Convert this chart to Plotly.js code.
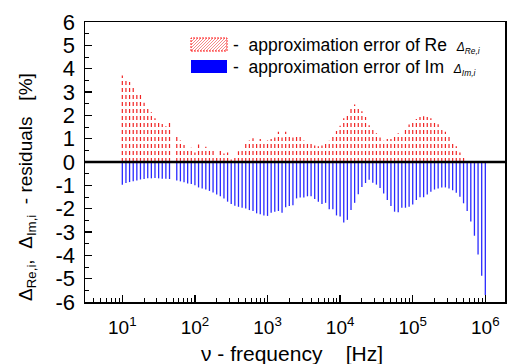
<!DOCTYPE html>
<html>
<head>
<meta charset="utf-8">
<script src="https://cdn.plot.ly/plotly-3.0.1.min.js"></script>
<style>html,body{margin:0;padding:0;background:#fff;}#chart{width:509px;height:364px;}</style>
</head>
<body>
<div id="chart"></div>
<script>
// Frequencies [Hz] (log-spaced measurement grid, 20 points per decade)
const freq = [
  10, 11.22, 12.59, 14.13, 15.85, 17.78, 19.95, 22.39, 25.12, 28.18, 31.62, 35.48, 39.81, 44.67, 50.12, 56.23, 63.10, 70.79, 79.43, 89.13,
  100, 112.2, 125.9, 141.3, 158.5, 177.8, 199.5, 223.9, 251.2, 281.8, 316.2, 354.8, 398.1, 446.7, 501.2, 562.3, 631.0, 707.9, 794.3, 891.3,
  1000, 1122, 1259, 1413, 1585, 1778, 1995, 2239, 2512, 2818, 3162, 3548, 3981, 4467, 5012, 5623, 6310, 7079, 7943, 8913,
  10000, 11220, 12590, 14130, 15850, 17780, 19950, 22390, 25120, 28180, 31620, 35480, 39810, 44670, 50120, 56230, 63100, 70790, 79430, 89130,
  100000, 112200, 125900, 141300, 158500, 177800, 199500, 223900, 251200, 281800, 316200, 354800, 398100, 446700, 501200, 562300, 631000, 707900, 794300, 891300,
  1000000
];
// Approximation error of Re [%]
const errRe = [
  3.71, 3.49, 3.43, 3.29, 2.89, 2.97, 2.54, 2.40, 2.13, 1.88, 1.80, 1.63, 1.53, 1.71, null, 1.08, 0.92, 0.73, 0.53, 0.61,
  0.41, 0.75, 0.57, 0.65, 0.47, 0.54, 0.30, 0.52, 0.36, 0.41, 0.11, 0.20, 0.46, 0.60, 0.84, 0.92, 1.02, 0.88, 0.99, 0.88,
  0.92, 0.99, 1.05, 1.30, 1.05, 1.30, 1.16, 1.05, 1.20, 1.09, 0.92, 0.84, 0.78, 0.71, 0.67, 0.71, 0.88, 0.91, 1.13, 1.33,
  1.55, 1.87, 2.08, 2.36, 2.46, 2.32, 2.18, 1.93, 1.58, 1.49, 1.23, 1.05, 0.91, 0.99, 0.99, 1.16, 1.23, 1.19, 1.42, 1.61,
  1.75, 1.84, 1.93, 1.96, 1.93, 1.87, 1.73, 1.62, 1.44, 1.30, 1.09, 0.88, 0.67, 0.41, 0.18, 0, 0, 0, 0, 0,
  0
];
// Approximation error of Im [%]
const errIm = [
  -0.97, -0.90, -0.86, -0.82, -0.79, -0.75, -0.73, -0.70, -0.70, -0.69, -0.70, -0.72, -0.72, -0.73, null, -0.79, -0.83, -0.87, -0.92, -0.94,
  -1.00, -1.09, -1.14, -1.18, -1.24, -1.31, -1.39, -1.47, -1.56, -1.70, -1.80, -1.87, -1.92, -1.96, -1.99, -2.06, -2.10, -2.20, -2.24, -2.29,
  -2.31, -2.17, -2.13, -2.10, -2.17, -1.94, -1.89, -1.85, -1.56, -1.52, -1.52, -1.47, -1.47, -1.59, -1.70, -1.80, -1.75, -2.03, -2.03, -2.29,
  -2.34, -2.59, -2.48, -2.06, -1.75, -1.38, -1.07, -0.90, -0.76, -0.89, -0.97, -1.11, -1.35, -1.63, -1.89, -2.13, -2.15, -1.96, -1.96, -1.92,
  -1.82, -1.63, -1.51, -1.51, -1.39, -1.28, -1.18, -1.14, -1.09, -1.09, -1.14, -1.21, -1.32, -1.49, -1.77, -2.10, -2.55, -3.16, -3.96, -4.87,
  -5.70
];
const xTickVals = [10, 100, 1000, 10000, 100000, 1000000];
const xTickText = ['10<sup>1</sup>', '10<sup>2</sup>', '10<sup>3</sup>', '10<sup>4</sup>', '10<sup>5</sup>', '10<sup>6</sup>'];
const yTickVals = [-6, -5, -4, -3, -2, -1, 0, 1, 2, 3, 4, 5, 6];
const yTickText = ['-6', '-5', '-4', '-3', '-2', '-1', '0', '1', '2', '3', '4', '5', '6'];

// build vertical stick segments from the data
function sticks(xs, vs) {
  const x = [], y = [];
  xs.forEach((f, i) => {
    if (vs[i] === null || vs[i] === 0) return;
    x.push(f, f, null); y.push(0, vs[i], null);
  });
  return {x, y};
}
const re = sticks(freq, errRe);
const im = sticks(freq, errIm);

// minor log ticks
const minorVals = [];
for (let d = 0; d <= 6; d++) for (let m = 2; m <= 9; m++) minorVals.push(m * Math.pow(10, d));

const W = 509, H = 364, L = 85, R = 4, T = 22, B = 62;
const PW = W - L - R, PH = H - T - B;
const px = v => (v - L) / PW;
const py = v => (H - B - v) / PH;

// legend patches
const shapes = [];
const hx0 = 191, hx1 = 227, hy0 = 38, hy1 = 51;
let hatchPath = '';
for (let c = hx0 + hy0 + 1; c < hx1 + hy1; c += 3) {
  const sy = Math.min(hy1, c - hx0), sx = c - sy;
  const ey = Math.max(hy0, c - hx1), ex = c - ey;
  hatchPath += `M${px(sx)},${py(sy)}L${px(ex)},${py(ey)}`;
}
shapes.push({type: 'path', xref: 'paper', yref: 'paper', path: hatchPath, line: {color: '#f58a8a', width: 1}});
shapes.push({type: 'rect', xref: 'paper', yref: 'paper', x0: px(hx0), x1: px(hx1), y0: py(hy1), y1: py(hy0),
  line: {color: '#ff2020', width: 1, dash: '2px,1px'}, fillcolor: 'rgba(0,0,0,0)'});
shapes.push({type: 'rect', xref: 'paper', yref: 'paper', x0: px(191), x1: px(227), y0: py(73), y1: py(60),
  line: {width: 0}, fillcolor: '#0000ff'});
shapes.push({type: 'line', xref: 'paper', yref: 'y', x0: 0, x1: 1, y0: 0, y1: 0, line: {color: '#000', width: 2.4}, layer: 'above'});

const FONT = 'Liberation Sans, Arial, sans-serif';
const annotations = [
  {xref: 'paper', yref: 'paper', x: px(231), y: py(45), xanchor: 'left', yanchor: 'middle', showarrow: false,
   text: '-\u00a0\u00a0approximation error of Re\u00a0\u00a0<span style="font-size:12px"><i>\u0394<sub>Re,i</sub></i></span>',
   font: {family: FONT, size: 17.5, color: '#000'}},
  {xref: 'paper', yref: 'paper', x: px(231), y: py(67), xanchor: 'left', yanchor: 'middle', showarrow: false,
   text: '-\u00a0\u00a0approximation error of Im\u00a0\u00a0<span style="font-size:12px"><i>\u0394<sub>Im,i</sub></i></span>',
   font: {family: FONT, size: 17.5, color: '#000'}},
  {xref: 'paper', yref: 'paper', x: px(292), y: py(353), xanchor: 'center', yanchor: 'middle', showarrow: false,
   text: '\u03bd - frequency\u00a0\u00a0\u00a0\u00a0[Hz]', font: {family: FONT, size: 21, color: '#000'}},
  {xref: 'paper', yref: 'paper', x: px(27), y: py(187), xanchor: 'center', yanchor: 'middle', showarrow: false, textangle: -90,
   text: '\u0394<sub>Re,i</sub>,\u00a0\u00a0\u0394<sub>Im,i</sub>\u00a0\u00a0- residuals\u00a0\u00a0\u00a0[%]',
   font: {family: FONT, size: 19, color: '#000'}}
];

const data = [
  {type: 'scatter', mode: 'lines', x: re.x, y: re.y, line: {color: '#f02424', width: 1.2, dash: '4px,3px'}, hoverinfo: 'skip', showlegend: false},
  {type: 'scatter', mode: 'lines', x: im.x, y: im.y, line: {color: '#2a2aff', width: 1.3}, hoverinfo: 'skip', showlegend: false}
];

const layout = {
  width: W, height: H,
  margin: {l: L, r: R, t: T, b: B},
  paper_bgcolor: '#fff', plot_bgcolor: '#fff',
  showlegend: false,
  font: {family: FONT, color: '#000'},
  xaxis: {
    type: 'log', range: [0.486, 6.271],
    tickmode: 'array', tickvals: xTickVals, ticktext: xTickText,
    ticks: 'inside', ticklen: 7, tickwidth: 1.5, tickcolor: '#000',
    minor: {tickmode: 'array', tickvals: minorVals, ticks: 'inside', ticklen: 4, tickwidth: 1, tickcolor: '#000', showgrid: false},
    showline: true, linecolor: '#000', linewidth: 1.5, mirror: true,
    showgrid: false, zeroline: false,
    ticklabelstandoff: 8,
    tickfont: {family: FONT, size: 19, color: '#000'}
  },
  yaxis: {
    range: [-6, 6],
    tickmode: 'array', tickvals: yTickVals, ticktext: yTickText,
    ticks: 'inside', ticklen: 7, tickwidth: 1.5, tickcolor: '#000',
    minor: {dtick: 0.5, tick0: 0, ticks: 'inside', ticklen: 4, tickwidth: 1, tickcolor: '#000', showgrid: false},
    showline: true, linecolor: '#000', linewidth: 1.5, mirror: true,
    showgrid: false, zeroline: false,
    ticklabelstandoff: 4,
    tickfont: {family: FONT, size: 22, color: '#000'}
  },
  shapes: shapes,
  annotations: annotations
};

Plotly.newPlot('chart', data, layout, {staticPlot: true, displayModeBar: false});
</script>
</body>
</html>
